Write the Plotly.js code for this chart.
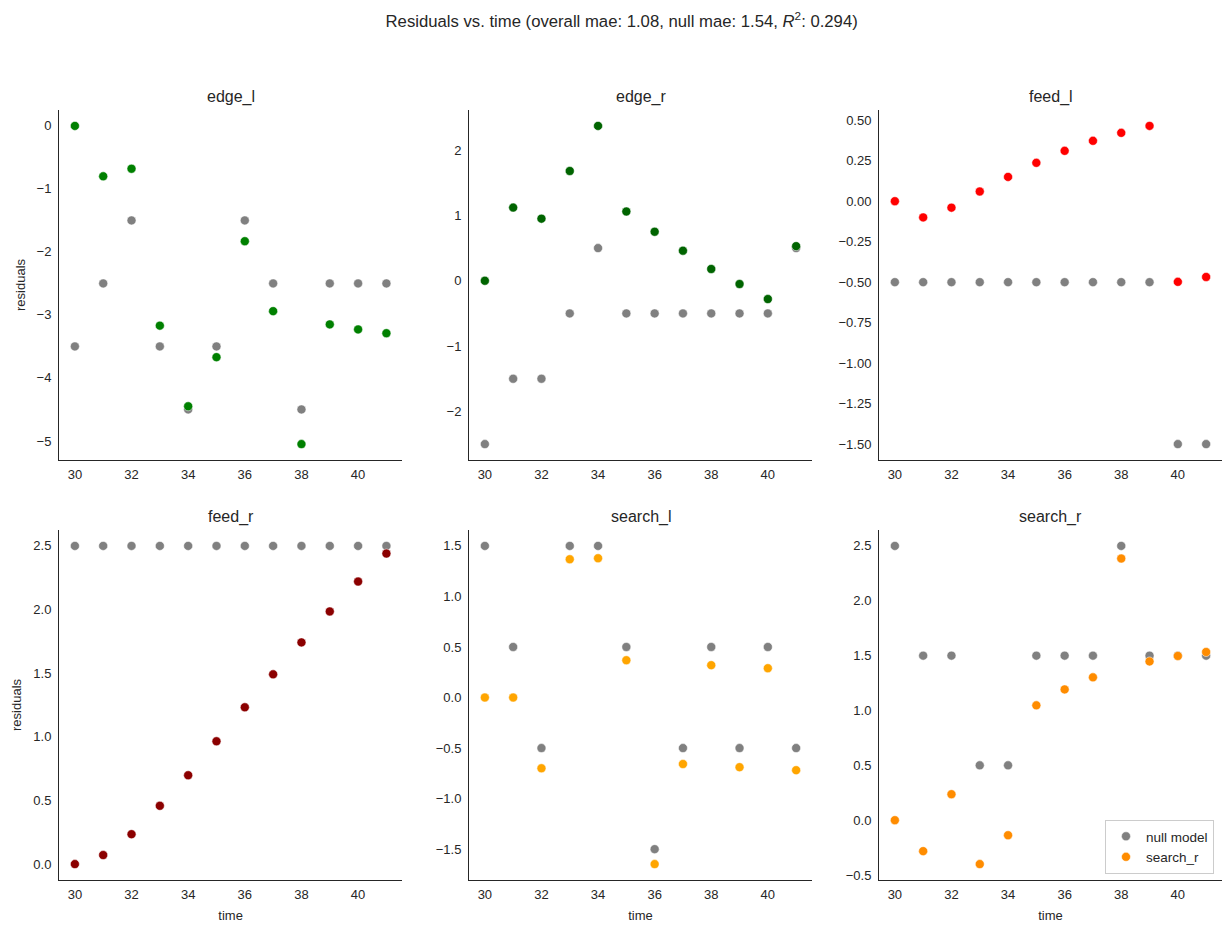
<!DOCTYPE html>
<html>
<head>
<meta charset="utf-8">
<script src="https://cdn.plot.ly/plotly-3.0.1.min.js"></script>
<style>html,body{margin:0;padding:0;background:#fff;}#chart{width:1231px;height:933px;}</style>
</head>
<body>
<div id="chart"></div>
<script>
const time = [30,31,32,33,34,35,36,37,38,39,40,41];
const panelNames = ["edge_l","edge_r","feed_l","feed_r","search_l","search_r"];
const panelColors = ["#008000","#006400","#ff0000","#8b0000","#ffa500","#ff8c00"];

const nullEdgeL = [-3.5,-2.5,-1.5,-3.5,-4.5,-3.5,-1.5,-2.5,-4.5,-2.5,-2.5,-2.5];
const resEdgeL  = [0.0,-0.80,-0.68,-3.17,-4.45,-3.67,-1.83,-2.94,-5.05,-3.15,-3.23,-3.29];

const nullEdgeR = [-2.5,-1.5,-1.5,-0.5,0.5,-0.5,-0.5,-0.5,-0.5,-0.5,-0.5,0.5];
const resEdgeR  = [0.0,1.12,0.95,1.68,2.37,1.06,0.75,0.46,0.18,-0.05,-0.28,0.53];

const nullFeedL = [-0.5,-0.5,-0.5,-0.5,-0.5,-0.5,-0.5,-0.5,-0.5,-0.5,-1.5,-1.5];
const resFeedL  = [0.0,-0.10,-0.04,0.06,0.15,0.237,0.311,0.373,0.422,0.465,-0.498,-0.468];

const nullFeedR = [2.5,2.5,2.5,2.5,2.5,2.5,2.5,2.5,2.5,2.5,2.5,2.5];
const resFeedR  = [0.0,0.071,0.235,0.458,0.698,0.965,1.232,1.491,1.742,1.985,2.22,2.44];

const nullSearchL = [1.5,0.5,-0.5,1.5,1.5,0.5,-1.5,-0.5,0.5,-0.5,0.5,-0.5];
const resSearchL  = [0.0,0.0,-0.70,1.368,1.378,0.369,-1.648,-0.658,0.32,-0.689,0.29,-0.719];

const nullSearchR = [2.5,1.5,1.5,0.5,0.5,1.5,1.5,1.5,2.5,1.5,1.5,1.5];
const resSearchR  = [0.0,-0.282,0.237,-0.40,-0.137,1.047,1.192,1.302,2.385,1.447,1.497,1.533];

const yTickSteps = [1,1,0.25,0.5,0.5,0.5];
const yTickFormats = ["d","d",".2f",".1f",".1f",".1f"];

const nullSeries = [nullEdgeL,nullEdgeR,nullFeedL,nullFeedR,nullSearchL,nullSearchR];
const resSeries = [resEdgeL,resEdgeR,resFeedL,resFeedR,resSearchL,resSearchR];

const W = 1231, H = 933;
const colsPx = [[59.3,402],[469.3,811.7],[879.3,1221.7]];
const rowsPx = [[110,460],[530,880]];
const txtColor = "#262626";
const fontFam = "Liberation Sans, Arial, sans-serif";

const traces = [];
const layout = {
  width: W, height: H,
  margin: {l:0,r:0,t:0,b:0},
  paper_bgcolor: "#ffffff",
  plot_bgcolor: "#ffffff",
  font: {family: fontFam, color: txtColor, size: 13},
  showlegend: true,
  legend: {
    x: 1214/W, xanchor: "right", y: 1-874/H, yanchor: "bottom",
    bgcolor: "rgba(255,255,255,0.8)", bordercolor: "#cccccc", borderwidth: 1,
    font: {size: 13.5, color: txtColor, family: fontFam},
    itemwidth: 30, tracegroupgap: 2
  },
  annotations: [],
  title: {
    text: "Residuals vs. time (overall mae: 1.08, null mae: 1.54, <i>R</i><sup>2</sup>: 0.294)",
    x: 0.505, xanchor: "center", y: 1-21/H, yanchor: "middle",
    font: {size: 16.7, color: txtColor, family: fontFam}
  }
};

function pad(arrs){
  let mn = Infinity, mx = -Infinity;
  arrs.forEach(a=>a.forEach(v=>{if(v<mn)mn=v;if(v>mx)mx=v;}));
  const m = (mx-mn)*0.05;
  return [mn-m, mx+m];
}

for (let i=0;i<6;i++){
  const r = Math.floor(i/3), c = i%3;
  const ax = i===0 ? "" : String(i+1);
  const xa = "xaxis"+ax, ya = "yaxis"+ax;
  const isLast = (i===5);
  traces.push({
    type:"scatter", mode:"markers", x: time, y: nullSeries[i],
    xaxis:"x"+ax, yaxis:"y"+ax, name:"null model", showlegend:isLast,
    marker:{color:"#808080", size:9, line:{color:"#ffffff", width:0.5}}
  });
  traces.push({
    type:"scatter", mode:"markers", x: time, y: resSeries[i],
    xaxis:"x"+ax, yaxis:"y"+ax, name: panelNames[i], showlegend:isLast,
    marker:{color:panelColors[i], size:9, line:{color:"#ffffff", width:0.5}}
  });
  const xr = pad([time]);
  const yr = pad([nullSeries[i], resSeries[i]]);
  layout[xa] = {
    domain:[colsPx[c][0]/W, colsPx[c][1]/W],
    range: xr, anchor:"y"+ax,
    showline:true, linecolor:txtColor, linewidth:1.25, mirror:false,
    showgrid:false, zeroline:false, ticks:"", dtick:2, tick0:30,
    tickfont:{size:13,color:txtColor,family:fontFam},
    ticklabelstandoff: 2
  };
  if (r===1) layout[xa].title = {text:"time", font:{size:13,color:txtColor,family:fontFam}, standoff:10};
  layout[ya] = {
    domain:[1-rowsPx[r][1]/H, 1-rowsPx[r][0]/H],
    range: yr, anchor:"x"+ax,
    showline:true, linecolor:txtColor, linewidth:1.25, mirror:false,
    showgrid:false, zeroline:false, ticks:"", dtick:yTickSteps[i], tickformat:yTickFormats[i],
    tickfont:{size:13,color:txtColor,family:fontFam},
    ticklabelstandoff: 4
  };
  if (c===0) layout[ya].title = {text:"residuals", font:{size:13,color:txtColor,family:fontFam}, standoff:8};
  layout.annotations.push({
    text: panelNames[i], xref:"paper", yref:"paper",
    x: (colsPx[c][0]+colsPx[c][1])/2/W, y: 1-(rowsPx[r][0]-13)/H,
    xanchor:"center", yanchor:"middle", showarrow:false,
    font:{size:16,color:txtColor,family:fontFam}
  });
}

Plotly.newPlot("chart", traces, layout, {displayModeBar:false, staticPlot:true});
</script>
</body>
</html>
